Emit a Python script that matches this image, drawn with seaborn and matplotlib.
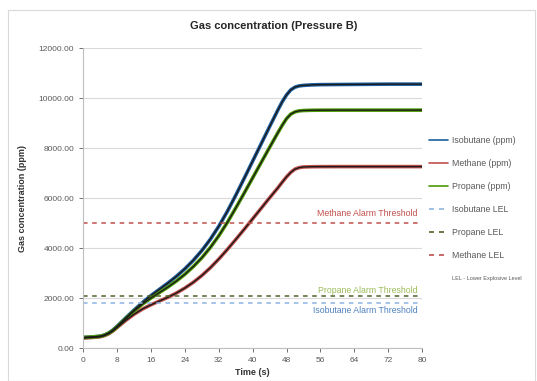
import pandas as pd
import numpy as np
import matplotlib.pyplot as plt
import seaborn as sns
from matplotlib.lines import Line2D
from matplotlib.patches import Rectangle

# Datos
time_s = [0, 2, 4, 5, 6, 7, 8, 10, 12, 14, 16, 18, 20, 22, 24, 26, 28, 30, 32, 34,
          36, 38, 40, 42, 44, 46, 47, 48, 49, 50, 51, 52, 54, 56, 60, 64, 68, 72, 76, 80]
isobutane = [420, 440, 470, 520, 600, 720, 870, 1200, 1520, 1820, 2100, 2350, 2600,
             2870, 3170, 3510, 3900, 4350, 4870, 5460, 6110, 6790, 7480, 8170, 8860,
             9540, 9860, 10130, 10330, 10440, 10490, 10510, 10530, 10540, 10545,
             10550, 10555, 10560, 10560, 10560]
propane = [420, 440, 470, 515, 590, 700, 850, 1170, 1480, 1760, 2000, 2220, 2440,
           2680, 2950, 3260, 3610, 4020, 4490, 5020, 5600, 6200, 6810, 7420, 8030,
           8630, 8920, 9180, 9360, 9450, 9490, 9505, 9515, 9518, 9520, 9520, 9520,
           9520, 9520, 9520]
methane = [400, 420, 450, 495, 570, 680, 820, 1100, 1350, 1560, 1730, 1880, 2030,
           2200, 2400, 2630, 2900, 3210, 3560, 3940, 4340, 4750, 5170, 5590, 6010,
           6420, 6640, 6850, 7030, 7160, 7220, 7245, 7255, 7258, 7260, 7260, 7260,
           7260, 7260, 7260]

gases = ["Isobutane (ppm)", "Methane (ppm)", "Propane (ppm)"]
gas_colors = {"Isobutane (ppm)": "#1f5f9f", "Methane (ppm)": "#c0504d",
              "Propane (ppm)": "#4e9a06"}

lel_names = ["Isobutane LEL", "Propane LEL", "Methane LEL"]
lel_values = [1800, 2100, 5000]
lel_colors = ["#8db4e2", "#4f6228", "#c0504d"]

alarm_texts = ["Isobutane Alarm Threshold", "Propane Alarm Threshold", "Methane Alarm Threshold"]
alarm_text_y = [1520, 2320, 5400]
alarm_text_colors = ["#4f81bd", "#9bbb59", "#c0504d"]

df = pd.DataFrame({
    "Time (s)": time_s * 3,
    "ppm": isobutane + methane + propane,
    "Gas": [gases[0]] * len(time_s) + [gases[1]] * len(time_s) + [gases[2]] * len(time_s),
})

sns.set_style("white")
plt.rcParams['font.family'] = ['Liberation Sans', 'DejaVu Sans']

fig = plt.figure(figsize=(5.37, 3.81), dpi=100)
fig.patches.append(Rectangle((8 / 537, 0.0), 527 / 537, 371 / 381, transform=fig.transFigure,
                             fill=False, edgecolor="#d9d9d9", linewidth=0.8))
ax = fig.add_axes([0.155, 0.0866, 0.631, 0.787])

# lineas de los gases (color) con el trazo oscuro encima
sns.lineplot(data=df, x="Time (s)", y="ppm", hue="Gas", palette=gas_colors,
             linewidth=2.6, ax=ax, legend=False)
for gas, vals in zip(gases, [isobutane, methane, propane]):
    ax.plot(time_s, vals, color="#1a1a1a", linewidth=1.0, solid_joinstyle="round")

# umbrales LEL
for name, val, col in zip(lel_names, lel_values, lel_colors):
    ax.axhline(val, color=col, linestyle=(0, (3, 3)), linewidth=1.1)

for txt, yv, col in zip(alarm_texts, alarm_text_y, alarm_text_colors):
    ax.text(79, yv, txt, color=col, fontsize=6.3, ha="right", va="center")

ax.set_xlim(0, 80)
ax.set_ylim(0, 12000)
ax.set_xticks(np.arange(0, 81, 8))
ax.set_yticks(np.arange(0, 12001, 2000))
ax.set_yticklabels([f"{v:.2f}" for v in np.arange(0, 12001, 2000)])
ax.tick_params(labelsize=6, colors="#595959", length=3, width=0.6, direction="out",
               left=True, bottom=True)
ax.grid(axis="y", color="#d9d9d9", linewidth=0.8)
for side in ["top", "right"]:
    ax.spines[side].set_visible(False)
for side in ["left", "bottom"]:
    ax.spines[side].set_color("#bfbfbf")
    ax.spines[side].set_linewidth(0.8)

ax.set_xlabel("Time (s)", fontsize=6.5, fontweight="bold", color="#333333", labelpad=3)
ax.set_ylabel("Gas concentration (ppm)", fontsize=6.5, fontweight="bold", color="#333333",
              labelpad=8)
fig.text(0.51, 0.932, "Gas concentration (Pressure B)", fontsize=8, fontweight="bold",
         ha="center", va="center", color="#262626")

handles = [Line2D([], [], color=gas_colors[g], linewidth=1.2) for g in gases]
handles += [Line2D([], [], color=c, linewidth=1.2, linestyle=(0, (3, 3))) for c in lel_colors]
handles.append(Line2D([], [], linestyle="none"))
labels = gases + lel_names + ["LEL - Lower Explosive Level"]
leg = ax.legend(handles, labels, loc="upper left", bbox_to_anchor=(1.01, 0.72),
                frameon=False, fontsize=6.3, handlelength=2.2, handletextpad=0.4,
                labelspacing=1.6, borderaxespad=0)
leg.get_texts()[-1].set_fontsize(4)
for t in leg.get_texts():
    t.set_color("#595959")

fig.savefig("out.png", dpi=100)
